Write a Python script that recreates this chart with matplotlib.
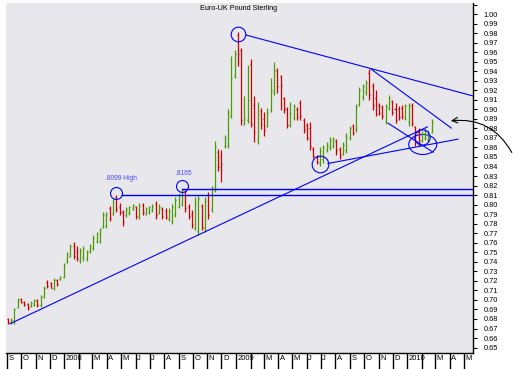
import matplotlib
matplotlib.use('Agg')
import matplotlib.pyplot as plt
import matplotlib.dates as mdates
from matplotlib.patches import Ellipse
from matplotlib.transforms import ScaledTranslation, blended_transform_factory
import numpy as np
import pandas as pd

plt.rcParams['font.family'] = ['Liberation Sans', 'DejaVu Sans']

# weekly EUR/GBP bars
hi = [.681, .681, .692, .702, .702, .699, .697, .699, .701, .701,
      .705, .715, .721, .719, .723, .722, .725, .739, .750, .759,
      .761, .757, .755, .757, .752, .759, .768, .771, .776, .792,
      .792, .799, .806, .8099, .802, .794, .797, .799, .801, .799,
      .802, .802, .797, .799, .801, .804, .801, .797, .796, .796,
      .801, .808, .812, .8165, .815, .801, .794, .808, .810, .801,
      .808, .813, .820, .867, .858, .857, .873, .900, .956, .962,
      .981, .964, .914, .947, .953, .914, .908, .901, .897, .901,
      .933, .950, .943, .936, .913, .902, .908, .906, .902, .910,
      .891, .886, .887, .860, .852, .860, .863, .866, .871, .871,
      .869, .860, .866, .875, .883, .885,
      .906, .923, .927, .931, .942, .928, .920, .907, .905, .906,
      .915, .910, .907, .904, .905, .906, .907, .907, .883, .880,
      .877, .880, .878, .890]
lo = [.675, .675, .675, .692, .697, .694, .689, .693, .694, .693,
      .693, .702, .713, .712, .710, .715, .721, .723, .739, .745,
      .743, .741, .739, .741, .741, .749, .752, .760, .760, .776,
      .775, .783, .789, .792, .789, .778, .787, .789, .794, .785,
      .785, .789, .789, .790, .792, .785, .790, .785, .785, .783,
      .780, .787, .796, .799, .792, .785, .776, .773, .768, .773,
      .771, .785, .792, .813, .835, .824, .859, .859, .891, .933,
      .945, .884, .884, .886, .881, .866, .864, .879, .872, .881,
      .897, .915, .917, .899, .896, .880, .881, .889, .889, .889,
      .875, .868, .857, .849, .843, .841, .844, .855, .857, .859,
      .852, .848, .852, .854, .868, .873,
      .876, .904, .910, .915, .910, .899, .893, .894, .890, .885,
      .899, .894, .886, .889, .890, .889, .883, .883, .862, .862,
      .866, .868, .866, .875]
op = [.680, .676, .678, .693, .701, .698, .696, .694, .695, .700,
      .695, .703, .719, .718, .712, .721, .722, .724, .740, .746,
      .757, .750, .742, .745, .744, .751, .755, .762, .762, .777,
      .778, .796, .790, .808, .798, .792, .789, .791, .795, .797,
      .787, .800, .790, .792, .794, .801, .791, .795, .793, .785,
      .783, .790, .798, .801, .813, .798, .790, .776, .772, .799,
      .775, .810, .795, .815, .855, .850, .862, .862, .893, .935,
      .978, .962, .885, .889, .948, .905, .868, .898, .890, .883,
      .899, .918, .941, .935, .912, .900, .884, .891, .900, .907,
      .889, .884, .880, .858, .851, .844, .848, .857, .860, .862,
      .867, .858, .853, .857, .870, .883,
      .879, .906, .913, .918, .938, .925, .912, .905, .902, .888,
      .901, .909, .900, .900, .901, .891, .887, .905, .881, .876,
      .867, .870, .868, .876]
cl = [.677, .679, .690, .700, .698, .695, .691, .697, .699, .695,
      .703, .713, .715, .713, .721, .717, .724, .737, .748, .757,
      .746, .744, .751, .754, .750, .757, .765, .769, .774, .789,
      .790, .786, .806, .795, .792, .782, .795, .797, .800, .788,
      .799, .792, .795, .797, .799, .789, .798, .788, .787, .793,
      .798, .805, .810, .815, .796, .788, .779, .802, .806, .777,
      .804, .789, .818, .860, .840, .843, .870, .896, .933, .958,
      .958, .889, .890, .910, .885, .876, .895, .885, .878, .896,
      .920, .940, .925, .924, .900, .884, .895, .903, .892, .893,
      .878, .870, .862, .851, .845, .856, .860, .863, .868, .869,
      .857, .851, .863, .871, .880, .875,
      .902, .920, .924, .928, .915, .905, .895, .896, .893, .903,
      .912, .897, .889, .892, .893, .903, .904, .886, .866, .868,
      .874, .877, .875, .887]
first_week = '2007-09-03'

# hand-drawn analysis marks (date, price)
trend_lines = [
    (('2009-01-23', .9779), ('2010-05-20', .9142)),
    (('2009-10-16', .9422), ('2010-04-05', .8803)),
    (('2009-11-21', .8855), ('2010-02-25', .8550)),
    (('2007-09-08', .6751), ('2010-02-13', .8816)),
    (('2009-07-16', .8432), ('2010-04-19', .8687)),
]
levels = [('2008-05-03', .8099), ('2008-09-07', .8165)]
circles = [('2008-04-20', .8127, 8.6), ('2008-09-07', .8197, 8.6),
           ('2009-01-06', .9790, 10.5), ('2009-06-28', .8424, 12.0)]
notes = [('2008-05-01', .8278, '.8099 High'), ('2008-09-11', .8330, '.8165')]

GREEN = '#4c9a08'
RED = '#d00000'
BLUE = '#0000ff'

dates = pd.date_range(first_week, periods=len(hi), freq='7D')
x = mdates.date2num(dates)
hi, lo, op, cl = map(np.array, (hi, lo, op, cl))

fig = plt.figure(figsize=(5.13, 3.69), dpi=100)
ax = fig.add_axes([6 / 513, 16 / 369, 466.5 / 513, 350 / 369])
ax.set_facecolor('#e8e8ec')

col = np.where(cl >= op, GREEN, RED)
ax.vlines(x, lo, hi, colors=col, lw=0.9)
ax.hlines(op, x - 2.2, x, colors=col, lw=0.9)
ax.hlines(cl, x, x + 2.2, colors=col, lw=0.9)

d = mdates.datestr2num
for (a, b) in trend_lines:
    ax.plot([d(a[0]), d(b[0])], [a[1], b[1]], color=BLUE, lw=0.8)
for (s, p) in levels:
    ax.plot([d(s), d('2010-06-30')], [p, p], color=BLUE, lw=1.0)
for (s, p, ms) in circles:
    ax.plot(d(s), p, 'o', mfc='none', mec=BLUE, ms=ms, mew=0.8)
ax.add_patch(Ellipse((d('2010-02-03'), .8631), 59.7, .021, fill=False,
                     ec=BLUE, lw=0.8))
ax.plot(d('2010-02-01'), .8712, 'o', mfc='none', mec=BLUE, ms=11, mew=0.8)
for (s, p, t) in notes:
    ax.text(d(s), p, t, color='#4848ff', fontsize=4.8, ha='center', va='center')

ax.set_xlim(d('2007-08-30'), d('2010-05-20'))
ax.set_ylim(0.6443, 1.0116)

# price axis on the right
ax.yaxis.tick_right()
yt = np.round(np.arange(0.65, 1.0101, 0.01), 2)
ax.set_yticks(yt)
ax.set_yticklabels(['%.2f' % v if v < 1.005 else '' for v in yt])
ax.tick_params(axis='y', length=3, width=0.8, pad=5, labelsize=5.3,
               colors='black')

# month ticks along the bottom
months = pd.date_range('2007-09-01', '2010-05-01', freq='MS')
ax.set_xticks(mdates.date2num(months))
ax.set_xticklabels([])
ax.tick_params(axis='x', length=12, width=1.0, direction='out')
trans = blended_transform_factory(ax.transData, ax.transAxes) + \
    ScaledTranslation(1.5 / 100, -1.5 / 100, fig.dpi_scale_trans)
for m in months:
    if m.month == 1:
        lab = str(m.year)
    elif m.month == 2:
        lab = ''
    else:
        lab = m.strftime('%b')[0]
    ax.text(mdates.date2num(m), 0, lab, transform=trans, fontsize=5.5,
            ha='left', va='top', clip_on=False, color='black')

for s in ['left', 'top']:
    ax.spines[s].set_visible(False)
ax.spines['right'].set_linewidth(1.0)
ax.spines['bottom'].set_linewidth(1.0)

fig.text(239 / 513, 1 - 9 / 369, 'Euro-UK Pound Sterling', fontsize=5.2,
         ha='center', va='center')

# curved arrow drawn over the right edge
ax.annotate('', xy=(d('2010-03-29'), .8876), xytext=(1.087, .566),
            textcoords='axes fraction',
            arrowprops=dict(arrowstyle='->', color='black', lw=0.8,
                            connectionstyle='arc3,rad=0.35'),
            annotation_clip=False)

fig.savefig('out.png', dpi=100)
